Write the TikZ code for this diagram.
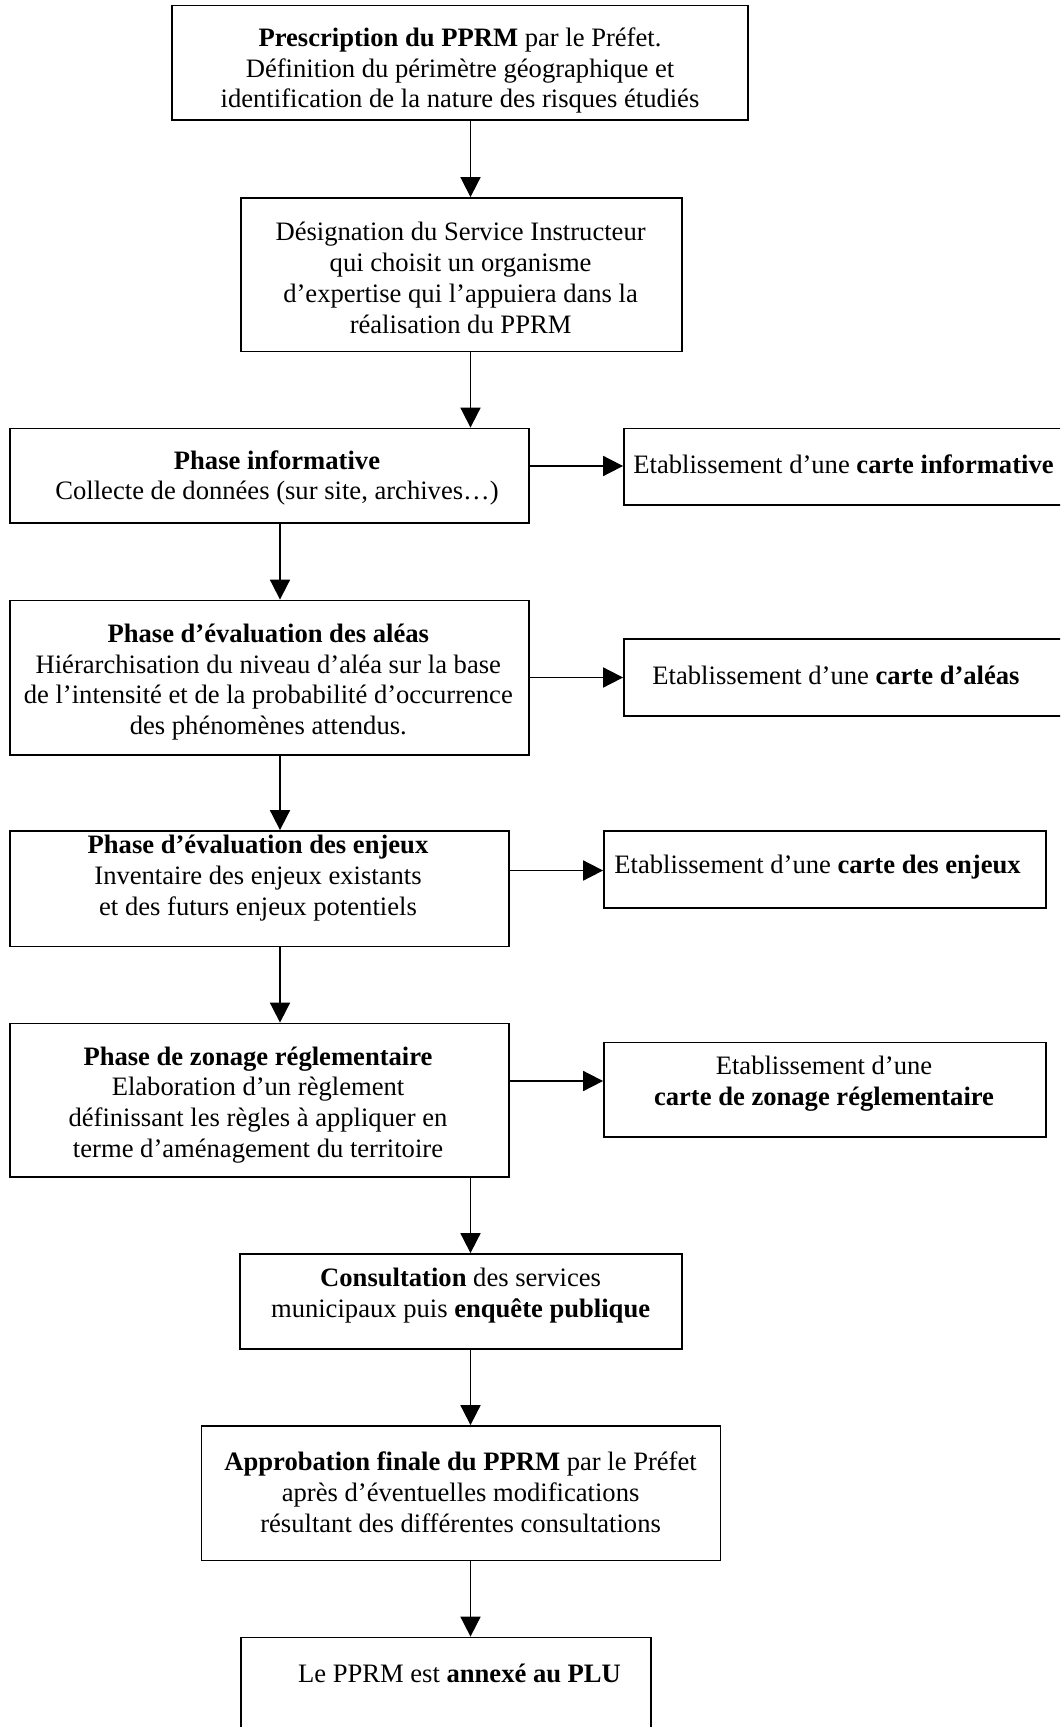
\documentclass[tikz,border=0pt]{standalone}
\usepackage{fontspec}
\setmainfont{Liberation Serif}
\usetikzlibrary{arrows.meta,fit}
\begin{document}
\begin{tikzpicture}[x=0.5pt,y=-0.5pt,
  box/.style={draw, line width=0.9pt, inner sep=0pt},
  txt/.style={inner sep=0pt, align=center, font=\fontsize{13.3}{15.4}\selectfont},
  arr/.style={line width=0.9pt, -{Triangle[width=10pt,length=10pt]}}]
\useasboundingbox (0,0) rectangle (1060,1727);
\clip (0,0) rectangle (1060,1727);
% boxes
\node[box, fit={(172,5.5) (748,120)}] (b1) {};
\node[box, fit={(241,198) (682,351.5)}] (b2) {};
\node[box, fit={(10,428.5) (529,523)}] (b3) {};
\node[box, fit={(624,428.5) (1070,505)}] (r3) {};
\node[box, fit={(10,600.5) (529,755)}] (b4) {};
\node[box, fit={(624,639) (1070,716)}] (r4) {};
\node[box, fit={(10,831) (509,946.5)}] (b5) {};
\node[box, fit={(604,831) (1046,908)}] (r5) {};
\node[box, fit={(10,1023.5) (509,1177)}] (b6) {};
\node[box, fit={(604,1042.5) (1046,1137)}] (r6) {};
\node[box, fit={(240,1254) (682,1349)}] (b7) {};
\node[box, fit={(201.5,1426) (720.5,1560.5)}] (b8) {};
\node[box, fit={(241,1637.5) (651,1760)}] (b9) {};
% texts
\node[txt] (t1) at (460,70.5) {\textbf{Prescription du PPRM} par le Préfet.\\ Définition du périmètre géographique et\\ identification de la nature des risques étudiés};
\node[txt] (t2) at (460.6,277.7) {Désignation du Service Instructeur\\ qui choisit un organisme\\ d’expertise qui l’appuiera dans la\\ réalisation du PPRM};
\node[txt] (t3) at (277,478) {\textbf{Phase informative}\\ Collecte de données (sur site, archives…)};
\node[txt] (tr3) at (843.5,464) {Etablissement d’une \textbf{carte informative}};
\node[txt] (t4) at (268.3,682) {\textbf{Phase d’évaluation des aléas}\\ Hiérarchisation du niveau d’aléa sur la base\\ de l’intensité et de la probabilité d’occurrence\\ des phénomènes attendus.};
\node[txt] (tr4) at (836,675.5) {Etablissement d’une \textbf{carte d’aléas}};
\node[txt] (t5) at (258,878) {\textbf{Phase d’évaluation des enjeux}\\ Inventaire des enjeux existants\\ et des futurs enjeux potentiels};
\node[txt] (tr5) at (817.6,867) {Etablissement d’une \textbf{carte des enjeux}};
\node[txt] (t6) at (258,1105) {\textbf{Phase de zonage réglementaire}\\ Elaboration d’un règlement\\ définissant les règles à appliquer en\\ terme d’aménagement du territoire};
\node[txt] (tr6) at (824,1083.7) {Etablissement d’une\\ \textbf{carte de zonage réglementaire}};
\node[txt] (t7) at (460.6,1295.3) {\textbf{Consultation} des services\\ municipaux puis \textbf{enquête publique}};
\node[txt] (t8) at (460.6,1492.5) {\textbf{Approbation finale du PPRM} par le Préfet\\ après d’éventuelles modifications\\ résultant des différentes consultations};
\node[txt] (t9) at (459.5,1673.8) {Le PPRM est \textbf{annexé au PLU}};
% guide coordinates
\coordinate (mx) at (470.5,0);
\coordinate (lx) at (280,0);
\coordinate (y3) at (0,466);
\coordinate (y4) at (0,677.5);
\coordinate (y5) at (0,870.5);
\coordinate (y6) at (0,1081);
% connectors
\draw[arr] (b1.south -| mx) -- (b2.north -| mx);
\draw[arr] (b2.south -| mx) -- (b3.north -| mx);
\draw[arr] (b3.south -| lx) -- (b4.north -| lx);
\draw[arr] (b4.south -| lx) -- (b5.north -| lx);
\draw[arr] (b5.south -| lx) -- (b6.north -| lx);
\draw[arr] (b6.south -| mx) -- (b7.north -| mx);
\draw[arr] (b7.south -| mx) -- (b8.north -| mx);
\draw[arr] (b8.south -| mx) -- (b9.north -| mx);
\draw[arr] (b3.east |- y3) -- (r3.west |- y3);
\draw[arr] (b4.east |- y4) -- (r4.west |- y4);
\draw[arr] (b5.east |- y5) -- (r5.west |- y5);
\draw[arr] (b6.east |- y6) -- (r6.west |- y6);
\end{tikzpicture}
\end{document}
